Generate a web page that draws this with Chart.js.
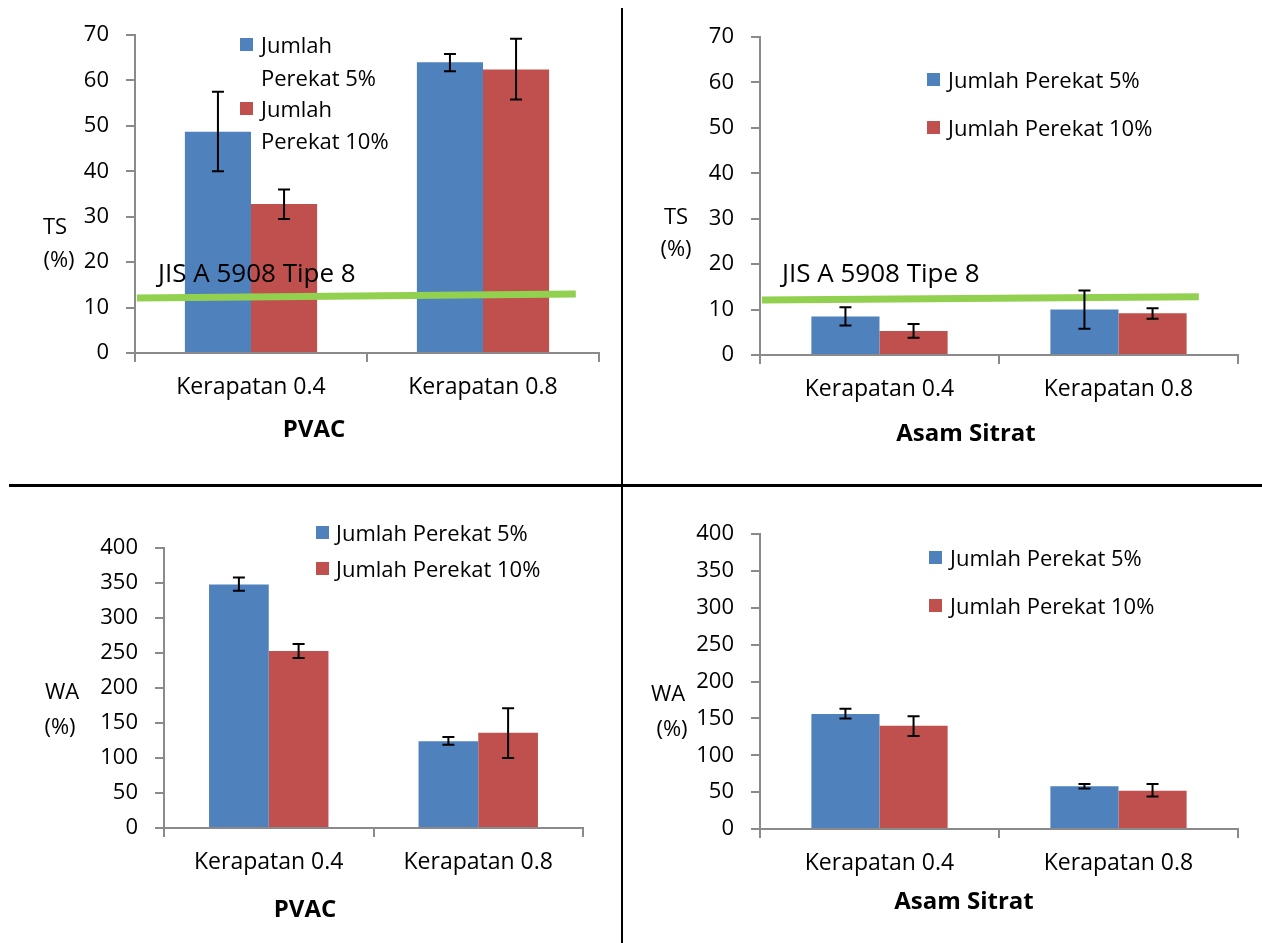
<!DOCTYPE html>
<html lang="id">
<head>
    <meta charset="UTF-8">
    <title>TS dan WA - PVAC dan Asam Sitrat</title>
    <script src="https://cdn.jsdelivr.net/npm/chart.js@4.4.0/dist/chart.umd.min.js"></script>
    <style>
        body {
            margin: 0;
            background: #fff;
            font-family: 'Open Sans', sans-serif;
            color: #000;
        }
        #page { position: relative; width: 1262px; height: 943px; overflow: hidden; }
        .panel { position: absolute; }
        .txt { position: absolute; white-space: nowrap; font-size: 22px; line-height: 26px; }
        .c { transform: translate(-50%, -50%); }      /* left/top = centre */
        .l { transform: translateY(-50%); }           /* left edge, vertical centre */
        .ttl { font-weight: bold; font-size: 24px; }
        .jis { font-size: 26px; }
        .sw { position: absolute; width: 13px; height: 13px; }
        .blue { background: #4f81bd; }
        .red { background: #c0504d; }
        .rule { position: absolute; background: #000; }
    </style>
</head>
<body>
<div id="page">
    <div class="panel" style="left:0;top:0"><canvas id="tsPvac" width="620" height="470"></canvas></div>
    <div class="panel" style="left:622px;top:0"><canvas id="tsSitrat" width="640" height="470"></canvas></div>
    <div class="panel" style="left:0;top:487px"><canvas id="waPvac" width="620" height="456"></canvas></div>
    <div class="panel" style="left:622px;top:487px"><canvas id="waSitrat" width="640" height="456"></canvas></div>

    <!-- dividing lines -->
    <div class="rule" style="left:621px;top:8px;width:2px;height:935px"></div>
    <div class="rule" style="left:9px;top:484px;width:1253px;height:3px"></div>

    <!-- top left: TS PVAC -->
    <div class="txt c" style="left:55px;top:225px">TS</div>
    <div class="txt c" style="left:59px;top:258px">(%)</div>
    <div class="sw blue" style="left:240px;top:38px"></div>
    <div class="txt l" style="left:261px;top:44px">Jumlah</div>
    <div class="txt l" style="left:261px;top:77px">Perekat 5%</div>
    <div class="sw red" style="left:240px;top:102px"></div>
    <div class="txt l" style="left:261px;top:108px">Jumlah</div>
    <div class="txt l" style="left:261px;top:140px">Perekat 10%</div>
    <div class="txt l jis" style="left:158px;top:272px">JIS A 5908 Tipe 8</div>
    <div class="txt c ttl" style="left:314px;top:428px">PVAC</div>

    <!-- top right: TS Asam Sitrat -->
    <div class="txt c" style="left:676px;top:215px">TS</div>
    <div class="txt c" style="left:676px;top:247px">(%)</div>
    <div class="sw blue" style="left:927px;top:73px"></div>
    <div class="txt l" style="left:948px;top:79px">Jumlah Perekat 5%</div>
    <div class="sw red" style="left:927px;top:121px"></div>
    <div class="txt l" style="left:948px;top:127px">Jumlah Perekat 10%</div>
    <div class="txt l jis" style="left:782px;top:272px">JIS A 5908 Tipe 8</div>
    <div class="txt c ttl" style="left:966px;top:432px">Asam Sitrat</div>

    <!-- bottom left: WA PVAC -->
    <div class="txt c" style="left:62px;top:690px">WA</div>
    <div class="txt c" style="left:60px;top:725px">(%)</div>
    <div class="sw blue" style="left:316px;top:526px"></div>
    <div class="txt l" style="left:336px;top:532px">Jumlah Perekat 5%</div>
    <div class="sw red" style="left:316px;top:562px"></div>
    <div class="txt l" style="left:336px;top:568px">Jumlah Perekat 10%</div>
    <div class="txt c ttl" style="left:305px;top:908px">PVAC</div>

    <!-- bottom right: WA Asam Sitrat -->
    <div class="txt c" style="left:668px;top:692px">WA</div>
    <div class="txt c" style="left:672px;top:727px">(%)</div>
    <div class="sw blue" style="left:929px;top:551px"></div>
    <div class="txt l" style="left:950px;top:557px">Jumlah Perekat 5%</div>
    <div class="sw red" style="left:929px;top:599px"></div>
    <div class="txt l" style="left:950px;top:605px">Jumlah Perekat 10%</div>
    <div class="txt c ttl" style="left:964px;top:900px">Asam Sitrat</div>
</div>

<script>
    const categories = ['Kerapatan 0.4', 'Kerapatan 0.8'];
    const seriesLabels = ['Jumlah Perekat 5%', 'Jumlah Perekat 10%'];

    // TS (%) - PVAC
    const tsPvac5 = [48.7, 64.0];
    const tsPvac10 = [32.8, 62.4];
    const tsPvac5Err = [[40.0, 57.5], [62.0, 65.8]];
    const tsPvac10Err = [[29.5, 36.0], [55.8, 69.2]];

    // TS (%) - Asam Sitrat
    const tsSitrat5 = [8.5, 10.0];
    const tsSitrat10 = [5.3, 9.2];
    const tsSitrat5Err = [[6.5, 10.5], [5.8, 14.2]];
    const tsSitrat10Err = [[3.8, 6.8], [8.0, 10.3]];

    // WA (%) - PVAC
    const waPvac5 = [348, 124];
    const waPvac10 = [253, 136];
    const waPvac5Err = [[339, 358], [119, 130]];
    const waPvac10Err = [[243, 263], [100, 171]];

    // WA (%) - Asam Sitrat
    const waSitrat5 = [156, 58];
    const waSitrat10 = [140, 52];
    const waSitrat5Err = [[150, 163], [55, 61]];
    const waSitrat10Err = [[126, 153], [44, 61]];

    // JIS A 5908 Tipe 8 reference line (value at its left and right end)
    const jisPvac = [12.1, 13.0];
    const jisSitrat = [12.1, 12.8];

    // y axis ranges
    const tsMax = 70, tsStep = 10;
    const waMax = 400, waStep = 50;

    const BLUE = '#4f81bd';
    const RED = '#c0504d';
    const GREEN = '#92d050';
    const AXIS = '#8a8a8a';

    // green JIS standard line, y from the value scale
    const jisLine = {
        id: 'jisLine',
        afterDatasetsDraw(chart, args, opts) {
            if (!opts.values) return;
            const area = chart.chartArea;
            const yScale = chart.scales.y;
            const w = area.right - area.left;
            const ctx = chart.ctx;
            ctx.save();
            ctx.strokeStyle = GREEN;
            ctx.lineWidth = 7;
            ctx.beginPath();
            ctx.moveTo(area.left + opts.from * w, yScale.getPixelForValue(opts.values[0]));
            ctx.lineTo(area.left + opts.to * w, yScale.getPixelForValue(opts.values[1]));
            ctx.stroke();
            ctx.restore();
        }
    };

    // draws the black error bars on top of the bars
    const errorBars = {
        id: 'errorBars',
        afterDatasetsDraw(chart) {
            const ctx = chart.ctx;
            const yScale = chart.scales.y;
            chart.data.datasets.forEach((ds, i) => {
                if (!ds.errors) return;
                const meta = chart.getDatasetMeta(i);
                meta.data.forEach((bar, j) => {
                    const lo = yScale.getPixelForValue(ds.errors[j][0]);
                    const hi = yScale.getPixelForValue(ds.errors[j][1]);
                    ctx.save();
                    ctx.strokeStyle = '#000';
                    ctx.lineWidth = 2;
                    ctx.beginPath();
                    ctx.moveTo(bar.x, lo); ctx.lineTo(bar.x, hi);
                    ctx.moveTo(bar.x - 6, lo); ctx.lineTo(bar.x + 6, lo);
                    ctx.moveTo(bar.x - 6, hi); ctx.lineTo(bar.x + 6, hi);
                    ctx.stroke();
                    ctx.restore();
                });
            });
        }
    };

    function makePanel(id, cfg) {
        new Chart(document.getElementById(id), {
            type: 'bar',
            data: {
                labels: categories,
                datasets: [
                    { label: seriesLabels[0], data: cfg.v5, errors: cfg.e5, backgroundColor: BLUE,
                      barPercentage: 1, categoryPercentage: 0.57 },
                    { label: seriesLabels[1], data: cfg.v10, errors: cfg.e10, backgroundColor: RED,
                      barPercentage: 1, categoryPercentage: 0.57 }
                ]
            },
            options: {
                responsive: false,
                animation: false,
                layout: { padding: { left: 0, top: cfg.top, right: cfg.right, bottom: 0 } },
                plugins: {
                    legend: { display: false },
                    tooltip: { enabled: false },
                    jisLine: { values: cfg.jis || null, from: cfg.jisFrom, to: cfg.jisTo }
                },
                scales: {
                    x: {
                        afterFit: s => { s.height = cfg.xh; },
                        grid: { offset: true, drawOnChartArea: false, tickLength: 9, color: AXIS, lineWidth: 2 },
                        border: { color: AXIS, width: 2 },
                        ticks: { color: '#000', padding: 12, maxRotation: 0, autoSkip: false,
                                 font: { family: 'Open Sans', size: 23 } }
                    },
                    y: {
                        min: 0, max: cfg.max,
                        afterFit: s => { s.width = cfg.left; },
                        grid: { drawOnChartArea: false, tickLength: 9, color: AXIS, lineWidth: 2 },
                        border: { color: AXIS, width: 2 },
                        ticks: { stepSize: cfg.step, color: '#000', padding: 17,
                                 font: { family: 'Open Sans', size: 22 } }
                    }
                }
            },
            plugins: [jisLine, errorBars]
        });
    }

    makePanel('tsPvac', { v5: tsPvac5, v10: tsPvac10, e5: tsPvac5Err, e10: tsPvac10Err,
        max: tsMax, step: tsStep, left: 135, top: 35, right: 21, xh: 117,
        jis: jisPvac, jisFrom: 0.004, jisTo: 0.95 });
    makePanel('tsSitrat', { v5: tsSitrat5, v10: tsSitrat10, e5: tsSitrat5Err, e10: tsSitrat10Err,
        max: tsMax, step: tsStep, left: 138, top: 37, right: 24, xh: 115,
        jis: jisSitrat, jisFrom: 0.004, jisTo: 0.918 });
    makePanel('waPvac', { v5: waPvac5, v10: waPvac10, e5: waPvac5Err, e10: waPvac10Err,
        max: waMax, step: waStep, left: 164, top: 61, right: 37, xh: 115 });
    makePanel('waSitrat', { v5: waSitrat5, v10: waSitrat10, e5: waSitrat5Err, e10: waSitrat10Err,
        max: waMax, step: waStep, left: 138, top: 47, right: 24, xh: 114 });
</script>
</body>
</html>
